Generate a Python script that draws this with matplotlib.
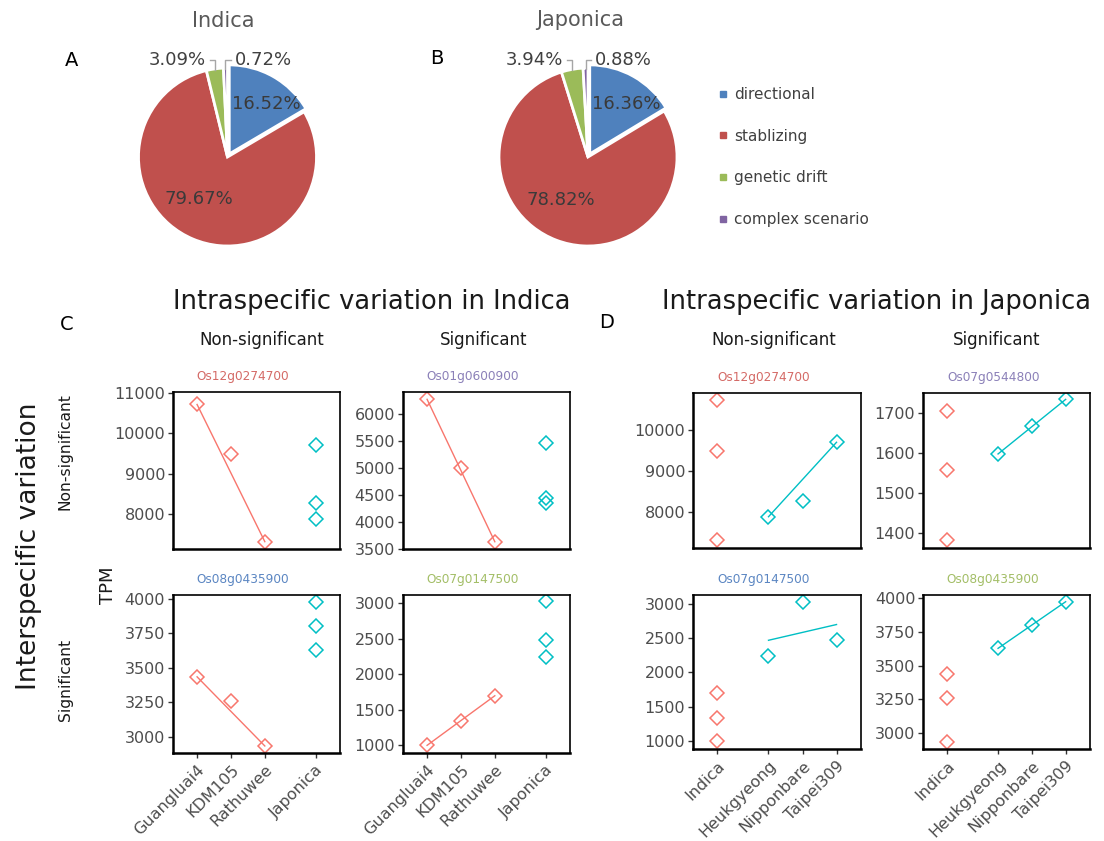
import numpy as np
import matplotlib.pyplot as plt
from matplotlib.lines import Line2D
from matplotlib.ticker import MultipleLocator

plt.rcParams['font.family'] = ['DejaVu Sans']

# pie data
pie_labels = ['directional', 'stablizing', 'genetic drift', 'complex scenario']
pie_colors = ['#4F81BD', '#C0504D', '#9BBB59', '#8064A2']
indica_pct = [16.52, 79.67, 3.09, 0.72]
japonica_pct = [16.36, 78.82, 3.94, 0.88]

# accessions
ind_acc = ['Guangluai4', 'KDM105', 'Rathuwee']
jap_acc = ['Heukgyeong', 'Nipponbare', 'Taipei309']

# TPM per gene (indica accessions / japonica accessions)
os12_ind = [10727, 9479, 7313]     # Os12g0274700
os12_jap = [7876, 8265, 9715]
os01_ind = [6273, 4990, 3628]      # Os01g0600900
os01_jap = [4351, 4433, 5459]
os08_ind = [3435, 3262, 2933]      # Os08g0435900
os08_jap = [3628, 3805, 3975]
os07a_ind = [995, 1340, 1695]      # Os07g0147500
os07a_jap = [2245, 3035, 2480]
os07b_ind = [1707, 1558, 1381]     # Os07g0544800
os07b_jap = [1598, 1668, 1735]

# trend line ends (first / last accession) as drawn in the figure
trend_c = {'Os12g0274700': [10720, 7313], 'Os01g0600900': [6273, 3628],
           'Os08g0435900': [3435, 2933], 'Os07g0147500': [995, 1695]}
trend_d = {'Os12g0274700': [7876, 9700], 'Os07g0544800': [1598, 1735],
           'Os07g0147500': [2470, 2700], 'Os08g0435900': [3628, 3975]}

RED = '#F8766D'
CYAN = '#00BFC4'
GREY = '#4D4D4D'
gene_col = {'red': '#D46A66', 'purple': '#8B80B8', 'blue': '#5B86C2', 'green': '#A3BE67'}

W, H = 1104, 841
fig = plt.figure(figsize=(W / 100, H / 100), dpi=100)


def px_axes(l, t, r, b):
    return fig.add_axes([l / W, 1 - b / H, (r - l) / W, (b - t) / H])


def draw_pie(cx, cy, r, vals, title, tx, ty, letter, lx, ly):
    half = 1.3 * r
    ax = px_axes(cx - half, cy - half, cx + half, cy + half)
    wedges, _ = ax.pie(vals, colors=pie_colors, startangle=90, counterclock=False,
                       explode=[0.04, 0, 0, 0],
                       wedgeprops=dict(edgecolor='white', linewidth=2))
    ax.set_xlim(-1.3, 1.3)
    ax.set_ylim(-1.3, 1.3)
    ax.set_aspect('equal')
    for w, v, d, off in zip(wedges[:2], vals[:2], [0.72, 0.58], [(0.08, -0.03), (-0.1, 0.06)]):
        a = np.deg2rad((w.theta1 + w.theta2) / 2)
        ax.text(d * np.cos(a) + off[0], d * np.sin(a) + off[1], f'{v:.2f}%', ha='center',
                va='center', fontsize=13, color='#3A3A3A')
    for w, v, side in zip(wedges[2:], vals[2:], [-1, 1]):
        a = np.deg2rad((w.theta1 + w.theta2) / 2)
        x0, y0 = np.cos(a), np.sin(a)
        yl = 1.09
        ax.plot([x0, x0, x0 + side * 0.06], [y0 - 0.01, yl, yl], color='#A6A6A6', lw=1,
                clip_on=False)
        ax.text(x0 + side * 0.1, yl, f'{v:.2f}%', ha='left' if side > 0 else 'right',
                va='center', fontsize=13, color='#404040', clip_on=False)
    fig.text(tx / W, 1 - ty / H, title, ha='center', va='center', fontsize=15, color='#595959')
    fig.text(lx / W, 1 - ly / H, letter, ha='center', va='center', fontsize=14)


draw_pie(227.5, 157, 89, indica_pct, 'Indica', 223, 21, 'A', 72, 60)
draw_pie(588, 157, 89, japonica_pct, 'Japonica', 580, 20, 'B', 437, 58)

handles = [Line2D([], [], ls='', marker='s', ms=4, color=c) for c in pie_colors]
fig.legend(handles, pie_labels, loc='center left', bbox_to_anchor=(705 / W, 1 - 157 / H),
           frameon=False, fontsize=11, labelspacing=1.75, handlelength=0.6,
           handletextpad=0.4, labelcolor='#404040')

ind_pos = [0, 1, 2]
jap_pos = [1.5, 2.5, 3.5]


def draw_panel(box, gene, gcolor, ind_vals, jap_vals, mode, ylim, ystep, bottom):
    ax = px_axes(*box)
    if mode == 'C':
        xi, xj = ind_pos, [3.5] * 3
        lx, ly, fc = [ind_pos[0], ind_pos[-1]], trend_c[gene], RED
        labels, ticks = ind_acc + ['Japonica'], ind_pos + [3.5]
    else:
        xi, xj = [0] * 3, jap_pos
        lx, ly, fc = [jap_pos[0], jap_pos[-1]], trend_d[gene], CYAN
        labels, ticks = ['Indica'] + jap_acc, [0] + jap_pos
    ax.plot(lx, ly, color=fc, lw=1)
    ax.plot(xi, ind_vals, ls='none', marker='D', ms=7.3, mfc='none', mec=RED, mew=1.1)
    ax.plot(xj, jap_vals, ls='none', marker='D', ms=7.3, mfc='none', mec=CYAN, mew=1.1)
    ax.set_ylim(*ylim)
    ax.set_xlim(-0.72, 4.22)
    ax.yaxis.set_major_locator(MultipleLocator(ystep))
    ax.tick_params(axis='y', length=3.5, width=1, color='#333333', labelsize=11.5,
                   labelcolor=GREY, pad=2)
    if bottom:
        ax.set_xticks(ticks)
        ax.set_xticklabels(labels, rotation=45, ha='right', rotation_mode='anchor')
        ax.tick_params(axis='x', length=3.5, width=1, color='#333333', labelsize=11.5,
                       labelcolor=GREY, pad=3)
    else:
        ax.set_xticks([])
    for s in ax.spines.values():
        s.set_linewidth(1.2)
    ax.spines['left'].set_linewidth(1.8)
    ax.spines['bottom'].set_linewidth(1.8)
    ax.text(0.42, 1.10, gene, transform=ax.transAxes, ha='center', va='center',
            fontsize=8.7, color=gene_col[gcolor])


draw_panel((172.7, 392, 340, 549), 'Os12g0274700', 'red', os12_ind, os12_jap, 'C',
           (7131, 11030), 1000, False)
draw_panel((402.7, 392, 570, 549), 'Os01g0600900', 'purple', os01_ind, os01_jap, 'C',
           (3493, 6409), 500, False)
draw_panel((172.7, 595, 340, 753), 'Os08g0435900', 'blue', os08_ind, os08_jap, 'C',
           (2882, 4029), 250, True)
draw_panel((402.7, 595, 570, 753), 'Os07g0147500', 'green', os07a_ind, os07a_jap, 'C',
           (887, 3117), 500, True)
draw_panel((693, 393, 861, 548), 'Os12g0274700', 'red', os12_ind, os12_jap, 'D',
           (7110, 10907), 1000, False)
draw_panel((923, 393, 1090, 548), 'Os07g0544800', 'purple', os07b_ind, os07b_jap, 'D',
           (1362, 1751), 100, False)
draw_panel((693, 595, 861, 749), 'Os07g0147500', 'blue', os07a_ind, os07a_jap, 'D',
           (883, 3131), 500, True)
draw_panel((923, 595, 1090, 749), 'Os08g0435900', 'green', os08_ind, os08_jap, 'D',
           (2879, 4025), 250, True)


def ftext(x, y, s, **kw):
    fig.text(x / W, 1 - y / H, s, ha='center', va='center', **kw)


ftext(372, 302, 'Intraspecific variation in Indica', fontsize=18.5, color='#1A1A1A')
ftext(877, 302, 'Intraspecific variation in Japonica', fontsize=18.5, color='#1A1A1A')
ftext(67, 325, 'C', fontsize=14)
ftext(607, 323, 'D', fontsize=14)
for x, s in [(262, 'Non-significant'), (484, 'Significant'),
             (774, 'Non-significant'), (997, 'Significant')]:
    ftext(x, 340, s, fontsize=12, color='#1A1A1A')
ftext(29, 546, 'Interspecific variation', fontsize=19, rotation=90, color='#1A1A1A')
ftext(65, 452, 'Non-significant', fontsize=11.2, rotation=90, color='#1A1A1A')
ftext(65, 680, 'Significant', fontsize=11.2, rotation=90, color='#1A1A1A')
ftext(108, 585, 'TPM', fontsize=13, rotation=90, color='#1A1A1A')

fig.savefig('out.png', dpi=100)
